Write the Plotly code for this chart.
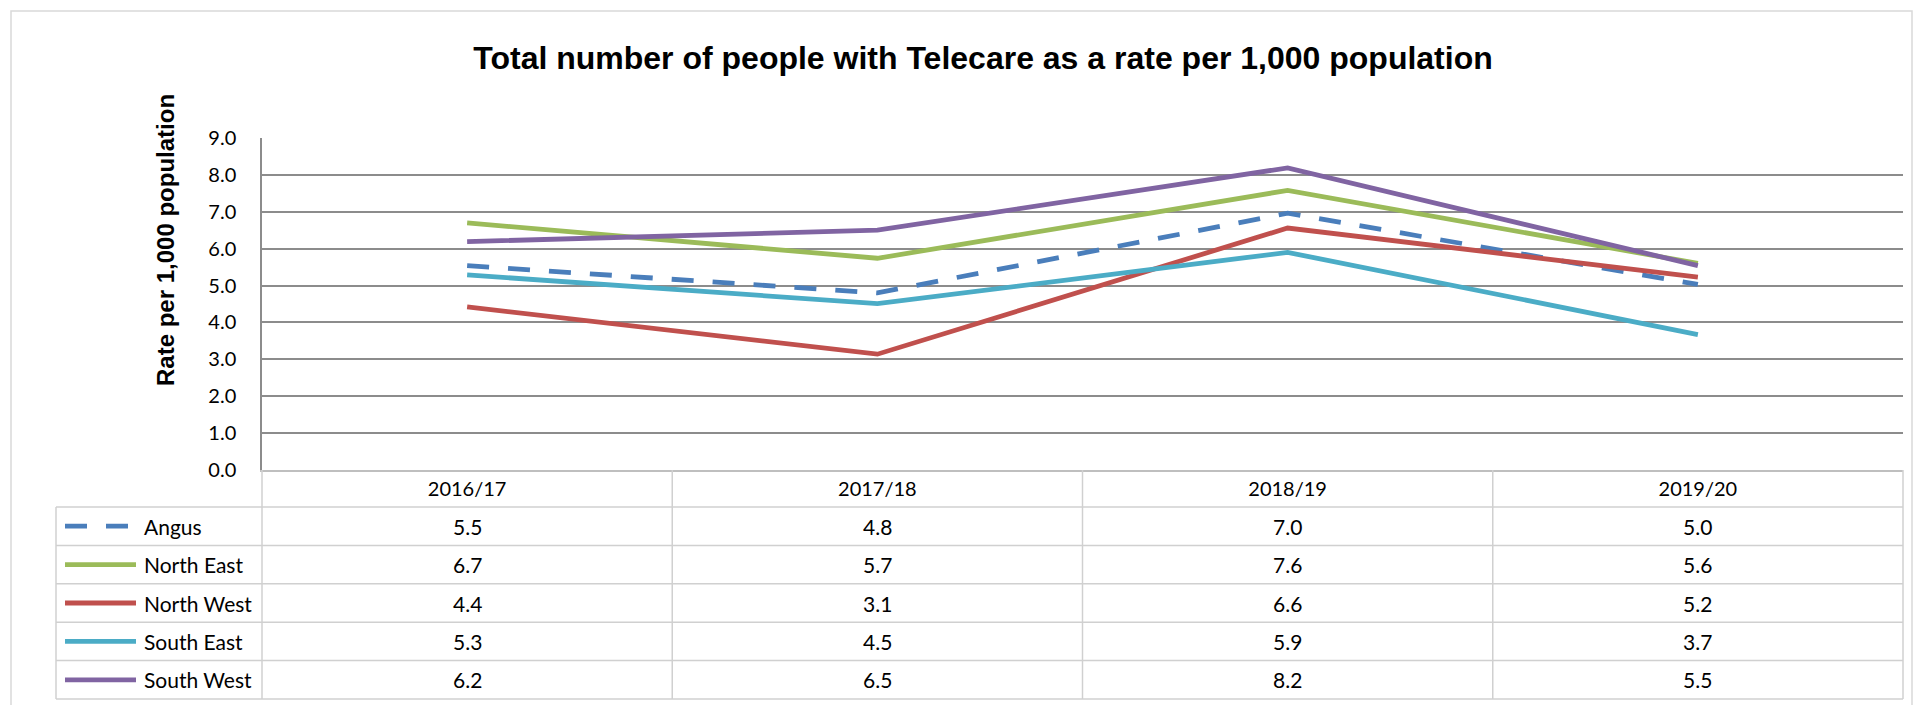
import plotly.graph_objects as go

# ---- data ----
years = ["2016/17", "2017/18", "2018/19", "2019/20"]
angus = [5.54, 4.80, 6.96, 5.03]
north_east = [6.70, 5.74, 7.58, 5.60]
north_west = [4.42, 3.14, 6.56, 5.23]
south_east = [5.29, 4.51, 5.90, 3.67]
south_west = [6.19, 6.50, 8.19, 5.54]
series_names = ["Angus", "North East", "North West", "South East", "South West"]
y_ticks = [0, 1, 2, 3, 4, 5, 6, 7, 8, 9]

series_values = [angus, north_east, north_west, south_east, south_west]
colors = ["#4A7EBB", "#9BBB59", "#C0504D", "#4BACC6", "#8064A2"]
dashes = ["22px,19px", "solid", "solid", "solid", "solid"]

W, H = 1915, 705
L, R, T, B = 262, 12, 138, 235
PW, PH = W - L - R, H - T - B


def px(x):
    return (x - L) / PW


def py(y):
    return (H - B - y) / PH


fig = go.Figure()
for name, vals, c, d in zip(series_names, series_values, colors, dashes):
    fig.add_trace(go.Scatter(x=years, y=vals, name=name, mode="lines",
                             line=dict(color=c, width=4.8, dash=d),
                             showlegend=False))

FONT = "Lato, Calibri, Carlito, sans-serif"
shapes = []
annotations = []

# table grid
row_tops = [507 + i * 38.4 for i in range(6)]
grid_col = "#D0D0D0"
for yb in row_tops:
    shapes.append(dict(type="line", xref="paper", yref="paper", x0=px(56), x1=1,
                       y0=py(yb), y1=py(yb), line=dict(color=grid_col, width=1.5), layer="below"))
shapes.append(dict(type="line", xref="paper", yref="paper", x0=px(56), x1=px(56),
                   y0=py(507), y1=py(row_tops[-1]), line=dict(color=grid_col, width=1.5)))
for xv in [0, 1]:
    shapes.append(dict(type="line", xref="paper", yref="paper", x0=xv, x1=xv,
                       y0=py(470), y1=py(row_tops[-1]), line=dict(color=grid_col, width=1.5)))
for i in range(len(years) - 1):
    shapes.append(dict(type="line", xref="x", yref="paper", x0=i + 0.5, x1=i + 0.5,
                       y0=py(470), y1=py(row_tops[-1]), line=dict(color=grid_col, width=1.5)))
# outer chart border
shapes.append(dict(type="rect", xref="paper", yref="paper", x0=px(11), x1=px(1912),
                   y0=py(11), y1=py(712), line=dict(color="#D9D9D9", width=1.5)))

# table rows: legend key + values
for r, (name, vals, c, d) in enumerate(zip(series_names, series_values, colors, dashes)):
    yc = row_tops[r] + 19.2
    x_end = 129 if d != "solid" else 136
    shapes.append(dict(type="line", xref="paper", yref="paper", x0=px(65), x1=px(x_end),
                       y0=py(yc), y1=py(yc), line=dict(color=c, width=4.8, dash=d)))
    annotations.append(dict(text=name, xref="paper", yref="paper", x=px(142), y=py(yc),
                            xanchor="left", yanchor="middle", showarrow=False,
                            font=dict(family=FONT, size=21, color="#000000")))
    for i, v in enumerate(vals):
        annotations.append(dict(text=f"{v:.1f}", xref="x", yref="paper", x=i, y=py(yc),
                                xanchor="center", yanchor="middle", showarrow=False,
                                font=dict(family=FONT, size=21, color="#000000")))

# y-axis title
annotations.append(dict(text="<b>Rate per 1,000 population</b>", xref="paper", yref="paper",
                        x=px(165), y=py(240), textangle=-90, showarrow=False,
                        xanchor="center", yanchor="middle",
                        font=dict(family="Liberation Sans, Arial, sans-serif", size=24, color="#000000")))

fig.update_layout(
    width=W, height=H,
    margin=dict(l=L, r=R, t=T, b=B),
    paper_bgcolor="white", plot_bgcolor="white",
    title=dict(text="<b>Total number of people with Telecare as a rate per 1,000 population</b>",
               x=983 / W, xanchor="center", y=1 - 58 / H, yanchor="middle", yref="container",
               font=dict(family="Liberation Sans, Arial, sans-serif", size=32, color="#000000")),
    xaxis=dict(type="category", range=[-0.5, len(years) - 0.5], showgrid=False,
               showline=True, linecolor="#BFBFBF", linewidth=1.5, ticks="",
               tickfont=dict(family=FONT, size=20, color="#000000"),
               ticklabelstandoff=0, zeroline=False),
    yaxis=dict(range=[0, 9], tickvals=y_ticks, ticktext=[f"{t:.1f}" for t in y_ticks],
               showgrid=True, gridcolor="#8C8C8C", gridwidth=1.5,
               showline=True, linecolor="#8C8C8C", linewidth=1.5, zeroline=False,
               ticks="", ticklabelstandoff=20,
               tickfont=dict(family=FONT, size=20, color="#000000")),
    shapes=shapes,
    annotations=annotations,
    showlegend=False,
)

fig.write_html("out.html")
